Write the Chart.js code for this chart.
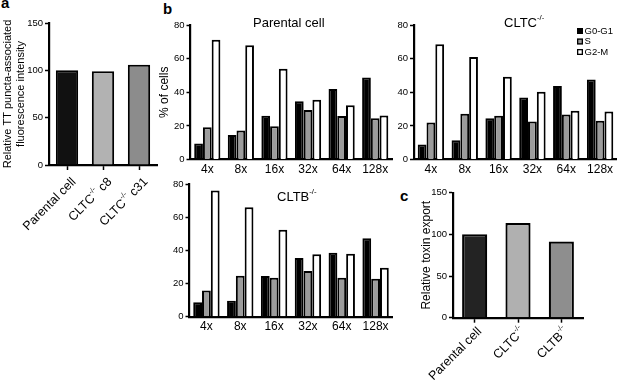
<!DOCTYPE html>
<html><head><meta charset="utf-8">
<script src="https://cdn.jsdelivr.net/npm/chart.js@4"></script>
<style>
html,body{margin:0;padding:0;background:#fff;}
body{width:617px;height:385px;position:relative;overflow:hidden;font-family:'Liberation Sans',Arial,sans-serif;}
canvas{position:absolute;}
.lt{position:absolute;font-weight:bold;font-size:15px;line-height:15px;color:#000;font-family:'Liberation Sans',Arial,sans-serif;}
</style></head><body>
<div class="lt" style="left:1px;top:-5px">a</div>
<div class="lt" style="left:163px;top:1px">b</div>
<div class="lt" style="left:400px;top:188px">c</div>
<canvas id="ca" style="left:0;top:0" width="165" height="240"></canvas>
<canvas id="cb1" style="left:155px;top:0" width="240" height="180"></canvas>
<canvas id="cb2" style="left:385px;top:0" width="232" height="180"></canvas>
<canvas id="cb3" style="left:155px;top:175px" width="240" height="165"></canvas>
<canvas id="cc" style="left:412px;top:185px" width="205" height="200"></canvas>
<script>
// ---- data ----
const cellLabels = ['Parental cell', 'CLTC{-/-} c8', 'CLTC{-/-} c31'];
const punctaIntensity = [100, 99, 106];
const punctaColors = ['#111111', '#b2b2b2', '#8c8c8c'];

const dilutions = ['4x', '8x', '16x', '32x', '64x', '128x'];
const phaseNames = ['G0-G1', 'S', 'G2-M'];
const phaseColors = ['#000000', '#9c9c9c', '#ffffff'];
const parentalG0G1 = [9.5, 14.5, 26, 34.7, 42, 48.8];
const parentalS    = [19.2, 17.3, 19.8, 29.4, 25.8, 24.6];
const parentalG2M  = [71.2, 68, 54, 35.5, 32.3, 26.2];
const cltcG0G1 = [8.9, 11.5, 24.6, 36.9, 43.7, 47.6];
const cltcS    = [22, 27.2, 26, 22.6, 26.8, 23];
const cltcG2M  = [68.5, 60.9, 49.2, 40.3, 29, 28.6];
const cltbG0G1 = [8.7, 9.7, 24.6, 35.5, 38.7, 47.4];
const cltbS    = [15.9, 24.8, 23.6, 27.6, 23.6, 23];
const cltbG2M  = [76.2, 66.1, 52.6, 37.7, 38.1, 29.6];
const panelTitles = ['Parental cell', 'CLTC{-/-}', 'CLTB{-/-}'];

const exportLabels = ['Parental cell', 'CLTC{-/-}', 'CLTB{-/-}'];
const toxinExport = [100, 113.5, 91.3];
const exportColors = ['#232323', '#b0b0b0', '#8e8e8e'];

// ---- helpers ----
const FAM = "'Liberation Sans', Arial, sans-serif";
Chart.defaults.font.family = FAM;
Chart.defaults.color = '#000';

function parseRich(s) {
  const out = []; const re = /\{([^}]*)\}|([^{]+)/g; let m;
  while ((m = re.exec(s))) { if (m[1] !== undefined) out.push({t: m[1], sup: true}); else out.push({t: m[2], sup: false}); }
  return out;
}
function drawRich(ctx, s, x, y, size, align) {
  const parts = parseRich(s);
  const supSize = size * 0.6;
  let w = 0;
  parts.forEach(p => { ctx.font = (p.sup ? supSize : size) + 'px ' + FAM; p.w = ctx.measureText(p.t).width; w += p.w; });
  let cx = align === 'right' ? x - w : align === 'center' ? x - w / 2 : x;
  ctx.textAlign = 'left'; ctx.textBaseline = 'middle'; ctx.fillStyle = '#000';
  parts.forEach(p => { ctx.font = (p.sup ? supSize : size) + 'px ' + FAM; ctx.fillText(p.t, cx, p.sup ? y - size * 0.4 : y); cx += p.w; });
}
function rotatedLabels(chart, labels, size, dx, dy) {
  const ctx = chart.ctx, xs = chart.scales.x, b = chart.chartArea.bottom;
  labels.forEach((l, i) => {
    const px = xs.getPixelForTick(i);
    ctx.save(); ctx.translate(px + dx, b + dy); ctx.rotate(-Math.PI / 4);
    drawRich(ctx, l, 0, 0, size, 'right'); ctx.restore();
  });
}
function yScale(max, step, width, title, titleSize, titlePad) {
  const s = {
    min: 0, max: max,
    ticks: {stepSize: step, font: {size: 9.5}, color: '#000', padding: 2},
    grid: {drawOnChartArea: false, drawTicks: true, tickLength: 4, tickColor: '#000', tickWidth: 1.5},
    border: {display: true, color: '#000', width: 2.2},
    afterFit: sc => { sc.width = width; }
  };
  if (title) s.title = {display: true, text: title, font: {size: titleSize}, color: '#000', padding: {top: titlePad, bottom: 0}};
  return s;
}
const base = {responsive: false, maintainAspectRatio: false, animation: false, events: [],
  plugins: {legend: {display: false}, tooltip: {enabled: false}}};

// ---- panel a ----
new Chart(document.getElementById('ca'), {
  type: 'bar',
  data: {labels: cellLabels, datasets: [{data: punctaIntensity, backgroundColor: punctaColors, borderColor: '#000', borderWidth: 2, barPercentage: 0.62, categoryPercentage: 1}]},
  options: Object.assign({}, base, {
    layout: {padding: {top: 23, right: 8, left: 0, bottom: 0}},
    scales: {
      x: {ticks: {display: false}, grid: {offset: false, drawOnChartArea: false, drawTicks: true, tickLength: 5, tickColor: '#000', tickWidth: 1.5},
          border: {display: true, color: '#000', width: 2.2}, afterFit: sc => { sc.height = 75; }},
      y: yScale(150, 50, 49, ['Relative TT puncta-associated', 'fluorescence intensity'], 11, 1.5)
    }
  }),
  plugins: [{id: 'xl', afterDraw(c) { rotatedLabels(c, cellLabels, 12.5, 7, 15); }}]
});

// ---- panel b ----
function cellCycle(id, g0, s, g2, title, titleX, titleY, pad, yW, xH, yTitle, legend) {
  const sets = [g0, s, g2].map((d, i) => ({label: phaseNames[i], data: d, backgroundColor: phaseColors[i], borderColor: '#000', borderWidth: 2, barPercentage: 1, categoryPercentage: 0.78}));
  new Chart(document.getElementById(id), {
    type: 'bar',
    data: {labels: dilutions, datasets: sets},
    options: Object.assign({}, base, {
      layout: {padding: pad},
      scales: {
        x: {ticks: {font: {size: 12}, color: '#000', padding: 3, maxRotation: 0, autoSkip: false},
            grid: {drawOnChartArea: false, drawTicks: false}, border: {display: true, color: '#000', width: 2.2},
            afterFit: sc => { sc.height = xH; }},
        y: yScale(80, 20, yW, yTitle, 12, 2.8)
      }
    }),
    plugins: [{id: 'deco', afterDraw(c) {
      const ctx = c.ctx;
      drawRich(ctx, title, titleX, titleY, 13, 'left');
      if (legend) {
        c.data.datasets.forEach((ds, i) => {
          const y = legend.y + i * 10.5;
          ctx.fillStyle = ds.backgroundColor; ctx.fillRect(legend.x, y - 3, 6, 6);
          ctx.strokeStyle = '#000'; ctx.lineWidth = 1.3; ctx.strokeRect(legend.x + 0.65, y - 2.35, 4.7, 4.7);
          ctx.fillStyle = '#000'; ctx.font = '9.5px ' + FAM; ctx.textAlign = 'left'; ctx.textBaseline = 'middle';
          ctx.fillText(ds.label, legend.x + 7.5, y);
        });
      }
    }}]
  });
}
cellCycle('cb1', parentalG0G1, parentalS, parentalG2M, panelTitles[0], 253 - 155, 23.5, {top: 25, right: 3, left: 0, bottom: 0}, 35.5, 20.5, '% of cells', null);
cellCycle('cb2', cltcG0G1, cltcS, cltcG2M, panelTitles[1], 504 - 385, 23.5, {top: 25, right: 0, left: 0, bottom: 0}, 29, 20.5, null, {x: 577 - 385, y: 31});
cellCycle('cb3', cltbG0G1, cltbS, cltbG2M, panelTitles[2], 277 - 155, 197 - 175, {top: 9.3, right: 2.5, left: 0, bottom: 0}, 34.5, 23.3, null, null);

// ---- panel c ----
new Chart(document.getElementById('cc'), {
  type: 'bar',
  data: {labels: exportLabels, datasets: [{data: toxinExport, backgroundColor: exportColors, borderColor: '#000', borderWidth: 2.2, barPercentage: 0.58, categoryPercentage: 1}]},
  options: Object.assign({}, base, {
    layout: {padding: {top: 6.7, right: 34, left: 0, bottom: 0}},
    scales: {
      x: {ticks: {display: false}, grid: {offset: false, drawOnChartArea: false, drawTicks: true, tickLength: 5, tickColor: '#000', tickWidth: 1.5},
          border: {display: true, color: '#000', width: 2.2}, afterFit: sc => { sc.height = 67.3; }},
      y: yScale(150, 50, 41, 'Relative toxin export', 12, 7.3)
    }
  }),
  plugins: [{id: 'xl', afterDraw(c) { rotatedLabels(c, exportLabels, 12.5, 5, 12); }}]
});
</script>
</body></html>
